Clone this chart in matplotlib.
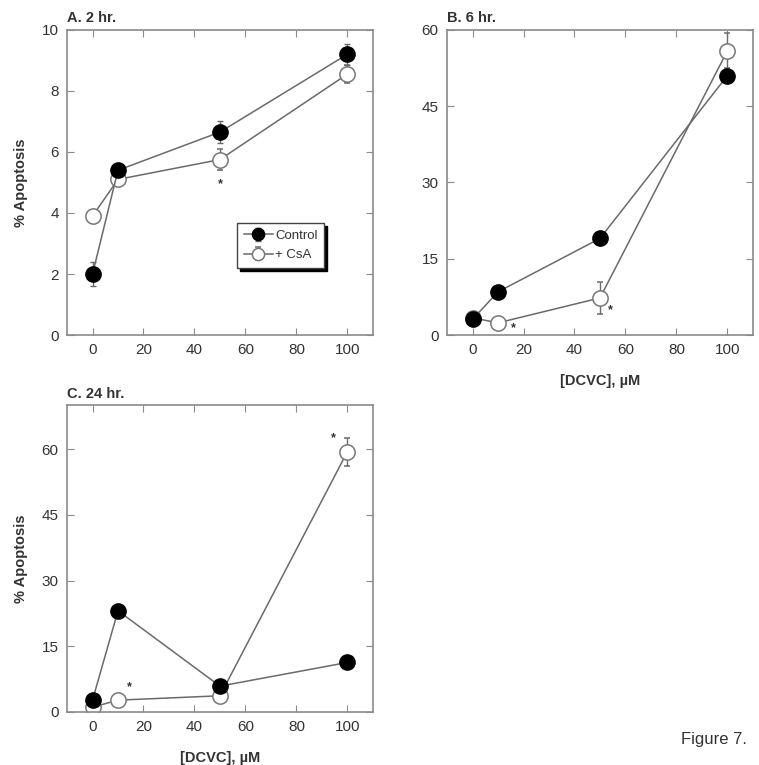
#!/usr/bin/env python3
"""Figure 7: % apoptosis vs DCVC concentration at 2, 6 and 24 hr."""

import matplotlib
matplotlib.use("Agg")
import matplotlib.pyplot as plt

plt.rcParams["font.family"] = ["Liberation Sans", "DejaVu Sans"]

dcvc = [0, 10, 50, 100]

# panel A, 2 hr
ctrl_2h = [2.0, 5.4, 6.65, 9.2]
ctrl_2h_err = [0.4, 0.2, 0.35, 0.35]
csa_2h = [3.9, 5.1, 5.75, 8.55]
csa_2h_err = [0.15, 0.15, 0.35, 0.3]

# panel B, 6 hr
ctrl_6h = [3.1, 8.5, 19.0, 51.0]
ctrl_6h_err = [0.5, 0.5, 0.6, 0.8]
csa_6h = [3.4, 2.4, 7.3, 55.9]
csa_6h_err = [0.4, 0.6, 3.2, 3.4]

# panel C, 24 hr
ctrl_24h = [2.7, 23.1, 5.9, 11.3]
ctrl_24h_err = [0.4, 0.5, 0.5, 0.5]
csa_24h = [1.1, 2.7, 3.7, 59.4]
csa_24h_err = [0.3, 0.3, 0.6, 3.2]

# significance marks (x, y)
stars_2h = [(50, 4.95)]
stars_6h = [(16, 1.3), (54, 4.8)]
stars_24h = [(14.5, 5.6), (94.5, 62.4)]

LINE = "#6a6a6a"
FRAME = "#8a8a8a"
TEXT = "#333333"


def draw_panel(ax, ctrl, ctrl_err, csa, csa_err, stars, title, yticks, ylim):
    ax.errorbar(dcvc, ctrl, yerr=ctrl_err, color=LINE, lw=1.1, marker="o",
                ms=11, mfc="black", mec="black", ecolor=LINE, elinewidth=1,
                capsize=2, zorder=3, label="Control")
    ax.errorbar(dcvc, csa, yerr=csa_err, color=LINE, lw=1.1, marker="o",
                ms=11, mfc="white", mec="#777777", mew=1.1, ecolor=LINE,
                elinewidth=1, capsize=2, zorder=2, label="+ CsA")
    for sx, sy in stars:
        ax.text(sx, sy, "*", ha="center", va="center", fontsize=9,
                fontweight="bold", color=TEXT)
    ax.set_xlim(-10, 110)
    ax.set_ylim(*ylim)
    ax.set_xticks([0, 20, 40, 60, 80, 100])
    ax.set_yticks(yticks)
    ax.tick_params(direction="in", top=True, right=True, length=5,
                   color=FRAME, labelsize=11, labelcolor=TEXT, pad=6)
    for sp in ax.spines.values():
        sp.set_color(FRAME)
        sp.set_linewidth(1.2)
    ax.text(0.0, 1.015, title, transform=ax.transAxes, fontsize=10.5,
            fontweight="bold", color=TEXT, ha="left", va="bottom")


fig = plt.figure(figsize=(7.59, 7.65), dpi=100)
ax_a = fig.add_axes([0.0883, 0.562, 0.403, 0.399])
ax_b = fig.add_axes([0.589, 0.562, 0.403, 0.399])
ax_c = fig.add_axes([0.0883, 0.0693, 0.403, 0.401])

draw_panel(ax_a, ctrl_2h, ctrl_2h_err, csa_2h, csa_2h_err, stars_2h,
           "A. 2 hr.", [0, 2, 4, 6, 8, 10], (0, 10))
draw_panel(ax_b, ctrl_6h, ctrl_6h_err, csa_6h, csa_6h_err, stars_6h,
           "B. 6 hr.", [0, 15, 30, 45, 60], (0, 60))
draw_panel(ax_c, ctrl_24h, ctrl_24h_err, csa_24h, csa_24h_err, stars_24h,
           "C. 24 hr.", [0, 15, 30, 45, 60], (0, 70))

for ax in (ax_a, ax_c):
    ax.set_ylabel("% Apoptosis", fontsize=10.5, fontweight="bold",
                  color=TEXT, labelpad=10)
for ax in (ax_b, ax_c):
    ax.set_xlabel("[DCVC], \u00b5M", fontsize=10.5, fontweight="bold",
                  color=TEXT, labelpad=12)

leg = ax_a.legend(loc="lower left", bbox_to_anchor=(0.556, 0.22),
                  borderaxespad=0, frameon=True, fancybox=False,
                  shadow={"color": "black", "alpha": 1.0}, fontsize=9.5,
                  handlelength=2.2, handletextpad=0.2, borderpad=0.5,
                  labelspacing=0.55, markerscale=0.8)
leg.get_frame().set_edgecolor("#444444")
leg.get_frame().set_linewidth(1.0)
for t in leg.get_texts():
    t.set_color(TEXT)

fig.text(0.984, 0.033, "Figure 7.", fontsize=12, color=TEXT,
         ha="right", va="center")

fig.savefig("out.png", dpi=100)
